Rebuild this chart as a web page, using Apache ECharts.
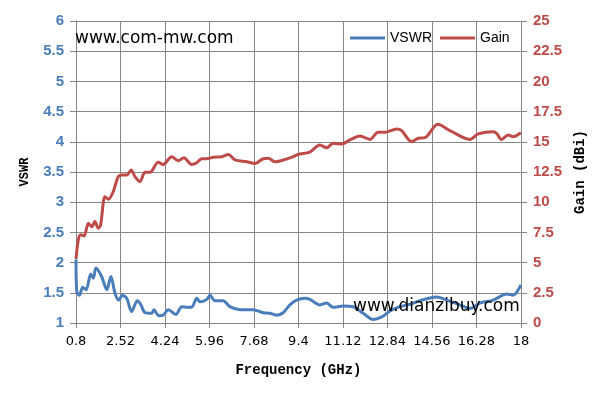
<!DOCTYPE html>
<html>
<head>
<meta charset="utf-8">
<script src="https://cdn.jsdelivr.net/npm/echarts@6/dist/echarts.min.js"></script>
<style>html,body{margin:0;padding:0;background:#fff}#c{width:595px;height:404px}</style>
</head>
<body>
<div id="c"></div>
<script>
const xTicks = [0.8, 2.52, 4.24, 5.96, 7.68, 9.4, 11.12, 12.84, 14.56, 16.28, 18];
const vswrFreq = [0.8,0.83,0.93,1.06,1.19,1.37,1.47,1.57,1.79,1.99,2.15,2.31,2.46,2.59,2.76,2.95,3.17,3.3,3.47,3.73,3.81,4.01,4.17,4.37,4.66,4.89,5.14,5.27,5.47,5.59,5.85,5.98,6.17,6.49,6.75,7.14,7.65,8.04,8.3,8.56,8.81,9.07,9.33,9.65,9.84,10.23,10.49,10.74,11.13,11.52,11.9,12.29,12.62,12.94,13.32,13.71,14.1,14.74,15.13,15.64,16.03,16.41,16.93,17.45,17.7,18];
const vswrVals = [2.05,1.52,1.46,1.59,1.55,1.81,1.74,1.91,1.77,1.55,1.77,1.49,1.38,1.46,1.41,1.19,1.37,1.31,1.17,1.16,1.22,1.12,1.13,1.22,1.14,1.27,1.26,1.26,1.41,1.35,1.39,1.46,1.37,1.37,1.27,1.22,1.22,1.17,1.16,1.13,1.17,1.3,1.38,1.41,1.39,1.3,1.33,1.26,1.28,1.27,1.16,1.06,1.1,1.2,1.27,1.31,1.37,1.43,1.38,1.3,1.24,1.33,1.38,1.48,1.46,1.63];
const gainFreq = [0.8,0.89,0.98,1.11,1.28,1.41,1.53,1.66,1.75,1.92,2.05,2.24,2.43,2.57,2.76,2.93,3.08,3.27,3.47,3.66,3.98,4.17,4.5,4.75,4.97,5.27,5.47,5.66,5.85,6.11,6.43,6.69,6.95,7.4,7.72,8.04,8.23,8.49,8.81,9.2,9.39,9.84,10.23,10.49,10.74,11.07,11.39,11.78,12.16,12.48,12.74,13.2,13.39,13.77,14.03,14.29,14.79,15.26,16.03,16.35,16.93,17.06,17.25,17.51,17.7,18];
const gainVals = [5.3,6.9,7.3,7.2,8.25,7.97,8.4,7.84,8.1,10.46,10.24,10.87,12.11,12.25,12.25,12.67,12.11,11.7,12.47,12.47,13.3,13.13,13.77,13.44,13.68,13.13,13.27,13.6,13.6,13.72,13.77,13.95,13.5,13.35,13.2,13.6,13.63,13.35,13.49,13.77,13.96,14.15,14.73,14.51,14.87,14.82,15.15,15.48,15.2,15.79,15.79,16.06,15.92,15.01,15.29,15.34,16.45,15.92,15.2,15.65,15.84,15.7,15.2,15.56,15.42,15.75];

const X0 = xTicks[0];
const step = xTicks[1] - xTicks[0];
const pair = (fs, vs) => fs.map((f, i) => [f - X0, vs[i]]);
const fmtX = v => String(parseFloat((v + X0).toFixed(2)));

const chart = echarts.init(document.getElementById('c'), null, {renderer: 'canvas'});
const grey = '#868686';
chart.setOption({
  animation: false,
  backgroundColor: '#fff',
  grid: {left: 76, right: 74, top: 21, bottom: 81},
  legend: {
    left: 345, top: 26,
    itemWidth: 35, itemHeight: 3, itemGap: 8, icon: 'rect',
    textStyle: {fontFamily: 'Liberation Sans', fontSize: 14, color: '#000'},
    data: ['VSWR', 'Gain']
  },
  xAxis: {
    type: 'value', min: 0, max: xTicks[xTicks.length-1] - X0, interval: step,
    name: 'Frequency (GHz)', nameLocation: 'middle', nameGap: 40,
    nameTextStyle: {fontFamily: 'Liberation Mono', fontWeight: 'bold', fontSize: 14, color: '#000'},
    axisLine: {show: true, lineStyle: {color: grey}},
    axisTick: {show: true, length: 5, lineStyle: {color: grey}},
    axisLabel: {margin: 12, fontFamily: 'DejaVu Sans', fontSize: 13, color: '#000', formatter: fmtX, showMaxLabel: true, showMinLabel: true},
    splitLine: {show: true, lineStyle: {color: grey, width: 1}}
  },
  yAxis: [{
    type: 'value', min: 1, max: 6, interval: 0.5, position: 'left',
    name: 'VSWR', nameLocation: 'middle', nameGap: 45, nameRotate: 90,
    nameTextStyle: {fontFamily: 'Liberation Mono', fontWeight: 'bold', fontSize: 12, color: '#000'},
    axisLine: {show: true, lineStyle: {color: grey}},
    axisTick: {show: true, length: 6, lineStyle: {color: grey}},
    axisLabel: {margin: 12, fontFamily: 'Liberation Sans', fontWeight: 'bold', fontSize: 15, color: '#4a7ebb'},
    splitLine: {show: true, lineStyle: {color: grey, width: 1}}
  }, {
    type: 'value', min: 0, max: 25, interval: 2.5, position: 'right',
    name: 'Gain (dBi)', nameLocation: 'middle', nameGap: 49, nameRotate: 90,
    nameTextStyle: {fontFamily: 'Liberation Mono', fontWeight: 'bold', fontSize: 14, color: '#000'},
    axisLine: {show: true, lineStyle: {color: grey}},
    axisTick: {show: true, length: 6, lineStyle: {color: grey}},
    axisLabel: {margin: 12, fontFamily: 'Liberation Sans', fontWeight: 'bold', fontSize: 15, color: '#be4b48'},
    splitLine: {show: false}
  }],
  series: [{
    name: 'VSWR', type: 'line', yAxisIndex: 0, smooth: 0.3, showSymbol: false, symbol: 'none',
    lineStyle: {color: '#4a7ebb', width: 3}, itemStyle: {color: '#4a7ebb'},
    data: pair(vswrFreq, vswrVals), z: 3
  }, {
    name: 'Gain', type: 'line', yAxisIndex: 1, smooth: 0.3, showSymbol: false, symbol: 'none',
    lineStyle: {color: '#be4b48', width: 3}, itemStyle: {color: '#be4b48'},
    data: pair(gainFreq, gainVals), z: 3
  }],
  graphic: [{
    type: 'text', left: 75, top: 30, z: 100,
    style: {text: 'www.com-mw.com', font: '17px "DejaVu Sans"', fill: '#000'}
  }, {
    type: 'text', left: 353, top: 298, z: 100,
    style: {text: 'www.dianzibuy.com', font: '17px "DejaVu Sans"', fill: '#000'}
  }]
});
</script>
</body>
</html>
